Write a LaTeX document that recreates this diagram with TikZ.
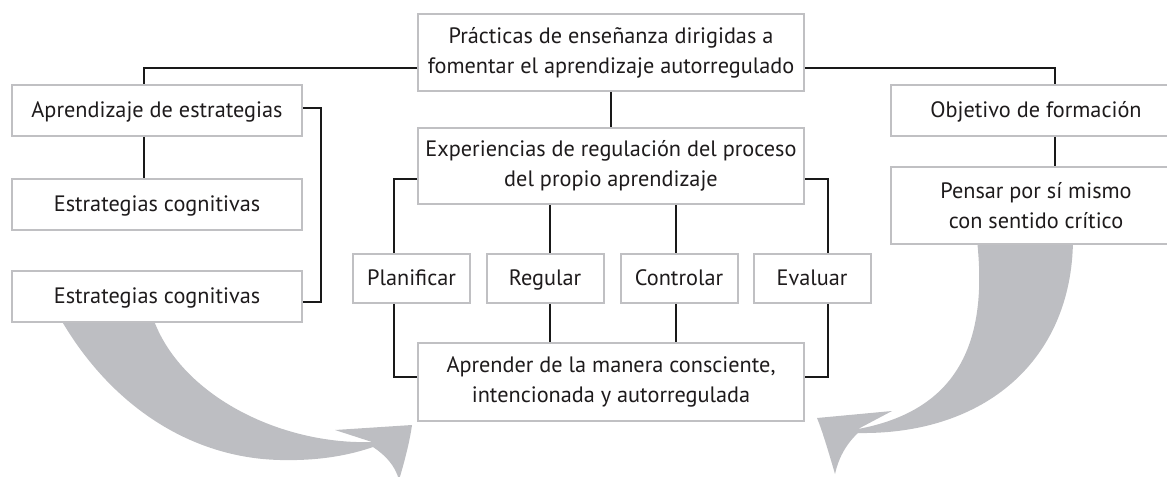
\documentclass[tikz,border=0pt]{standalone}
\usepackage{fontspec}
\setmainfont{PT Sans}
\definecolor{boxgray}{RGB}{192,192,195}
\definecolor{arrowgray}{RGB}{189,190,194}
\definecolor{txt}{RGB}{30,27,28}
\tikzset{
  box/.style={draw=boxgray, line width=1.5pt, fill=white, text=txt, align=center,
    inner sep=0pt, font=\fontsize{16.7pt}{22.5pt}\selectfont},
  oneline/.style={text height=12.5pt, text depth=2pt},
  widebox/.style={box, oneline, minimum width=217.5pt, minimum height=38.25pt},
  tallbox/.style={box, minimum width=217.5pt, minimum height=57.75pt},
  midbox/.style={box, minimum width=289.5pt, minimum height=57.5pt},
  smallbox/.style={box, oneline, minimum width=87.75pt, minimum height=36.75pt},
  conn/.style={draw=black!90, line width=1pt},
  swoosh/.style={fill=arrowgray, draw=none}
}
\begin{document}
\begin{tikzpicture}[x=0.75pt, y=-0.75pt]
\useasboundingbox (0,0) rectangle (1167,477);
\begin{scope}
\clip (0,0) rectangle (1167,477);

% grey swooshes (drawn first, boxes cover their roots)
\path[swoosh] (60,318) .. controls (110,405) and (190,458) .. (280,460)
  .. controls (320,461) and (350,455) .. (373,447)
  .. controls (385,455) and (395,465) .. (399,480)
  .. controls (405,460) and (410,440) .. (412,425)
  -- (335,430) -- (372,442)
  .. controls (280,445) and (180,395) .. (153,318) -- cycle;

\path[swoosh] (1073,240) .. controls (1072,360) and (985,435) .. (858,433)
  .. controls (845,445) and (838,460) .. (835,474)
  .. controls (828,450) and (822,430) .. (817,418)
  -- (892,411) -- (858,429)
  .. controls (960,410) and (988,340) .. (977,240) -- cycle;

% boxes
\node[midbox, minimum height=57.75pt] (T) at (611,52.5) {Prácticas de enseñanza dirigidas a\\fomentar el aprendizaje autorregulado};
\node[midbox] (E) at (611,166) {Experiencias de regulación del proceso\\del propio aprendizaje};
\node[midbox, minimum height=58.5pt] (Ap) at (611,382) {Aprender de la manera consciente,\\intencionada y autorregulada};

\node[widebox] (A) at (157,110.5) {Aprendizaje de estrategias};
\node[widebox] (B) at (157,204.5) {Estrategias cognitivas};
\node[widebox] (C) at (157,296.5) {Estrategias cognitivas};

\node[widebox] (O) at (1036,110.5) {Objetivo de formación};
\node[tallbox] (P) at (1036,205.5) {Pensar por sí mismo\\con sentido crítico};

\node[smallbox] (Pl) at (411.5,278.5) {Planificar};
\node[smallbox] (Re) at (545,278.5) {Regular};
\node[smallbox] (Co) at (679,278.5) {Controlar};
\node[smallbox] (Ev) at (812,278.5) {Evaluar};

% connectors
\draw[conn] (T.west |- 0,68) -| (A.north -| 144,0);
\draw[conn] (T.east |- 0,68) -| (O.north -| 1055,0);
\draw[conn] (T) -- (E);
\draw[conn] (A.south -| 144,0) -- (B.north -| 144,0);
\draw[conn] (A.east |- 0,108) -- (321,108) |- (C.east |- 0,302);
\draw[conn] (O.south -| 1055,0) -- (P.north -| 1055,0);

\draw[conn] (E.west |- 0,179) -| (Pl.north -| 394,0);
\draw[conn] (Pl.south -| 394,0) |- (Ap.west |- 0,377);
\draw[conn] (E.east |- 0,179) -| (Ev.north -| 828,0);
\draw[conn] (Ev.south -| 828,0) |- (Ap.east |- 0,377);

\draw[conn] (E.south -| 550,0) -- (Re.north -| 550,0);
\draw[conn] (E.south -| 676,0) -- (Co.north -| 676,0);
\draw[conn] (Re.south -| 550,0) -- (Ap.north -| 550,0);
\draw[conn] (Co.south -| 676,0) -- (Ap.north -| 676,0);
\end{scope}
\end{tikzpicture}
\end{document}
